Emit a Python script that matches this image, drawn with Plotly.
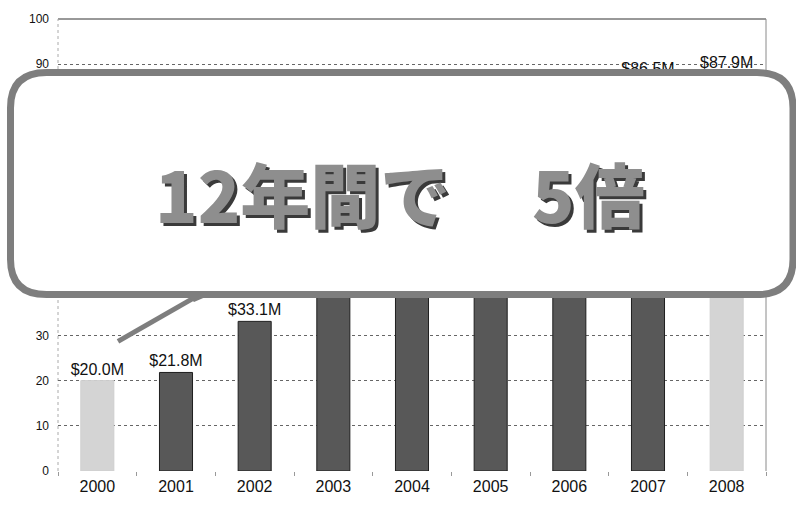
import plotly.graph_objects as go

years = ["2000", "2001", "2002", "2003", "2004", "2005", "2006", "2007", "2008"]
revenue = [20.0, 21.8, 33.1, 42.0, 52.0, 60.0, 68.0, 86.5, 87.9]
# labels of 2003-2006 lie under the callout box in the reference
value_labels = ["$20.0M", "$21.8M", "$33.1M", "", "", "", "", "$86.5M", "$87.9M"]
bar_colors = ["#d4d4d4", "#585858", "#585858", "#585858", "#585858",
              "#585858", "#585858", "#585858", "#d4d4d4"]
edge_colors = ["#cfcfcf", "#1e1e1e", "#1e1e1e", "#1e1e1e", "#1e1e1e",
               "#1e1e1e", "#1e1e1e", "#1e1e1e", "#cfcfcf"]
callout_left = "12年間で"
callout_right = "5倍"

W, H = 796, 507
ML, MR, MT, MB = 58, 30, 17, 30
PW, PH = W - ML - MR, H - MT - MB


def px(x):
    return (x - ML) / PW


def py(y):
    return (H - MB - y) / PH


def P(x, y):
    return f"{px(x):.5f},{py(y):.5f}"


def rounded_rect(x0, y0, x1, y1, r):
    return (f"M {P(x0 + r, y0)} L {P(x1 - r, y0)} Q {P(x1, y0)} {P(x1, y0 + r)} "
            f"L {P(x1, y1 - r)} Q {P(x1, y1)} {P(x1 - r, y1)} "
            f"L {P(x0 + r, y1)} Q {P(x0, y1)} {P(x0, y1 - r)} "
            f"L {P(x0, y0 + r)} Q {P(x0, y0)} {P(x0 + r, y0)} Z")


fig = go.Figure()
fig.add_trace(go.Bar(
    x=years, y=revenue, width=0.42,
    marker=dict(color=bar_colors, line=dict(color=edge_colors, width=1)),
    text=value_labels, texttemplate="%{text}", textposition="outside",
    constraintext="none",
    textfont=dict(size=16, color="#111111", family="Liberation Sans"),
    cliponaxis=False, showlegend=False,
))

border_col = "#7e7e7e"
shapes = [
    # plot frame
    dict(type="line", xref="paper", yref="paper", x0=0, x1=1, y0=1, y1=1,
         line=dict(color="#333333", width=1), layer="below"),
    dict(type="line", xref="paper", yref="paper", x0=1, x1=1, y0=0, y1=1,
         line=dict(color="#8a8a8a", width=1), layer="below"),
    dict(type="line", xref="paper", yref="paper", x0=0, x1=0, y0=0, y1=1,
         line=dict(color="#aaaaaa", width=1, dash="dot"), layer="below"),
    # callout tail
    dict(type="line", xref="paper", yref="paper",
         x0=px(118), y0=py(345), x1=px(197), y1=py(299),
         line=dict(color=border_col, width=5), layer="above"),
    dict(type="path", xref="paper", yref="paper",
         path=f"M {P(186, 297)} L {P(212, 297)} L {P(194, 305)} Z",
         fillcolor=border_col, line=dict(width=0), layer="above"),
    # callout box
    dict(type="path", xref="paper", yref="paper",
         path=rounded_rect(10.5, 71.5, 793, 297.5, 36),
         fillcolor="white", line=dict(color=border_col, width=7), layer="above"),
]

cjk = "Noto Sans CJK JP"
annotations = []
for text, cx in [(callout_left, 302), (callout_right, 588)]:
    annotations.append(dict(
        text=text, xref="paper", yref="paper", x=px(cx), y=py(194),
        showarrow=False, xanchor="center", yanchor="middle",
        font=dict(family=cjk, size=70, color="#8e8e8e", weight=900,
                  shadow="3px 3px 0px #3a3a3a")))

fig.update_layout(
    width=W, height=H,
    margin=dict(l=ML, r=MR, t=MT, b=MB, pad=0),
    paper_bgcolor="white", plot_bgcolor="white",
    font=dict(family="Liberation Sans", color="#111111"),
    shapes=shapes, annotations=annotations,
    bargap=0.58,
    xaxis=dict(type="category", showgrid=False, showline=False, zeroline=False,
               ticks="outside", tickson="boundaries", ticklen=4, tickcolor="#999999",
               tickfont=dict(size=16), ticklabelstandoff=4),
    yaxis=dict(range=[0, 100], dtick=10, showgrid=True, gridcolor="#666666",
               griddash="dot", gridwidth=1, zeroline=False, showline=False,
               tickfont=dict(size=12), ticklabelstandoff=8),
)

fig.write_html("out.html")
